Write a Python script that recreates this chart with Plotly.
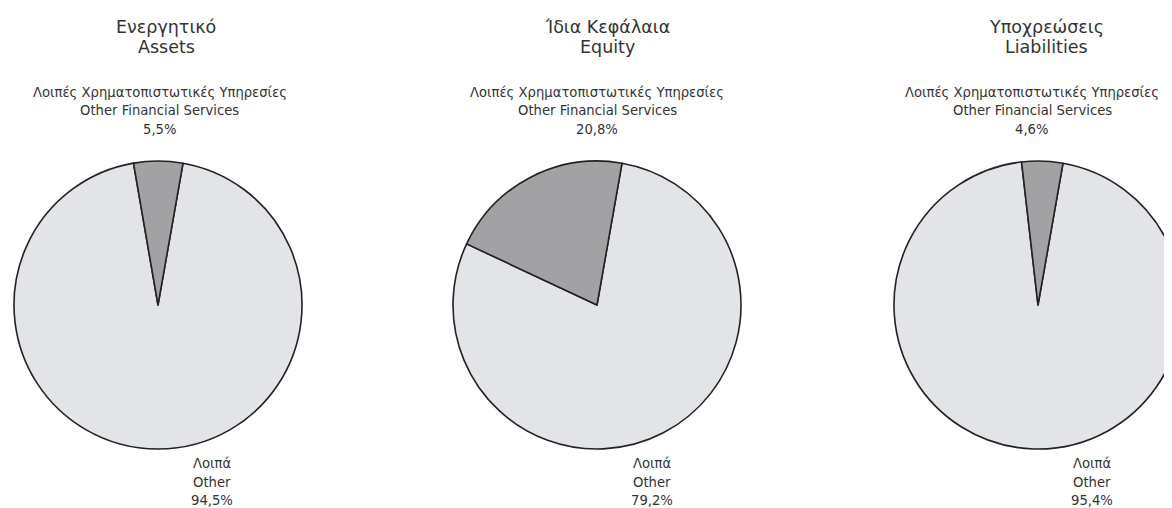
import plotly.graph_objects as go

# ---- data ----
panel_titles_gr = ["Ενεργητικό", "Ίδια Κεφάλαια", "Υποχρεώσεις"]
panel_titles_en = ["Assets", "Equity", "Liabilities"]
categories_gr = ["Λοιπά", "Λοιπές Χρηματοπιστωτικές Υπηρεσίες"]
categories_en = ["Other", "Other Financial Services"]
other_share = [94.5, 79.2, 95.4]
other_fin_share = [5.5, 20.8, 4.6]

# ---- layout constants (screen pixels; page body has an 8px margin) ----
OFF = 8
W, H = 1182, 500
pie_x = [(14, 302), (453, 741), (894, 1182)]
pie_y = (161, 449)
title_cx = [166, 607, 1046]
top_cx = [160, 597, 1032]
bot_cx = [212, 652, 1092]
title_y = [27, 47]
top_y = [92, 111, 129]
bot_y = [463, 482, 500]

TXT = "#333333"
FONT = "DejaVu Sans"


def fmt(v):
    return f"{v:.1f}".replace(".", ",") + "%"


def px(x):
    return (x - OFF) / W


def py(y):
    return 1 - (y - OFF) / H


fig = go.Figure()
for i in range(3):
    x0, x1 = pie_x[i]
    fig.add_trace(go.Pie(
        labels=categories_en,
        values=[other_share[i], other_fin_share[i]],
        sort=False,
        direction="clockwise",
        rotation=10,
        textinfo="none",
        hoverinfo="label+percent",
        marker=dict(colors=["#e3e4e7", "#a2a2a4"],
                    line=dict(color="#222222", width=1.6)),
        domain=dict(x=[px(x0), min(1.0, px(x1))], y=[py(pie_y[1]), py(pie_y[0])]),
        showlegend=False,
    ))

ann = []


def add(text, x, y, size):
    ann.append(dict(text=text, x=px(x), y=py(y), xref="paper", yref="paper",
                    xanchor="center", yanchor="middle", showarrow=False,
                    font=dict(family=FONT, size=size, color=TXT)))


for i in range(3):
    add(panel_titles_gr[i], title_cx[i], title_y[0], 17.5)
    add(panel_titles_en[i], title_cx[i], title_y[1], 17.5)
    add(categories_gr[1], top_cx[i], top_y[0], 13.2)
    add(categories_en[1], top_cx[i], top_y[1], 13.2)
    add(fmt(other_fin_share[i]), top_cx[i], top_y[2], 13.2)
    add(categories_gr[0], bot_cx[i], bot_y[0], 13.2)
    add(categories_en[0], bot_cx[i], bot_y[1], 13.2)
    add(fmt(other_share[i]), bot_cx[i], bot_y[2], 13.2)

fig.update_layout(
    width=W, height=H,
    margin=dict(l=0, r=0, t=0, b=0),
    paper_bgcolor="white", plot_bgcolor="white",
    annotations=ann,
)

fig.write_html("out.html")
